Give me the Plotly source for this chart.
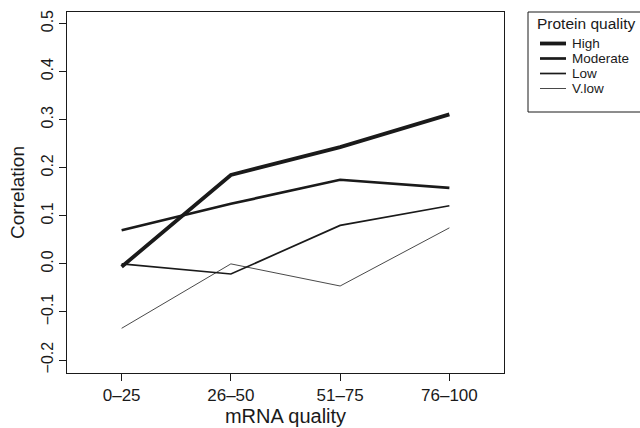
import plotly.graph_objects as go

categories = ["0–25", "26–50", "51–75", "76–100"]
series_names = ["High", "Moderate", "Low", "V.low"]
high = [-0.006, 0.185, 0.243, 0.311]
moderate = [0.070, 0.125, 0.175, 0.158]
low = [0.000, -0.021, 0.080, 0.121]
vlow = [-0.134, 0.000, -0.046, 0.075]
y_ticks = [-0.2, -0.1, 0.0, 0.1, 0.2, 0.3, 0.4, 0.5]

series_values = [high, moderate, low, vlow]
widths = [3.8, 2.7, 1.7, 0.8]

FONT = "Liberation Sans, Arial, Helvetica, sans-serif"
INK = "#1a1a1a"

fig = go.Figure()
for name, vals, w in zip(series_names, series_values, widths):
    fig.add_trace(go.Scatter(x=categories, y=vals, mode="lines", name=name,
                             line=dict(color=INK, width=w), showlegend=False))

# Legend drawn as a framed key (paper coordinates)
PL, PT, PW, PH = 67, 12, 437, 361
def px(x):
    return (x - PL) / PW
def py(y):
    return (PT + PH - y) / PH

shapes = [dict(type="rect", xref="paper", yref="paper",
               x0=px(528), x1=px(700), y0=py(112), y1=py(12),
               line=dict(color=INK, width=1))]
annotations = [dict(text="Protein quality", xref="paper", yref="paper",
                    x=px(535), y=py(23), xanchor="left", yanchor="middle",
                    showarrow=False, font=dict(family=FONT, size=15.5, color=INK))]
for i, (name, w) in enumerate(zip(series_names, widths)):
    yy = 43.5 + 15 * i
    shapes.append(dict(type="line", xref="paper", yref="paper",
                       x0=px(540), x1=px(566), y0=py(yy), y1=py(yy),
                       line=dict(color=INK, width=w)))
    annotations.append(dict(text=name, xref="paper", yref="paper",
                            x=px(570), y=py(yy), xanchor="left", yanchor="middle",
                            showarrow=False, font=dict(family=FONT, size=13.5, color=INK)))

fig.update_layout(
    width=640, height=428,
    margin=dict(l=PL, r=640 - PL - PW, t=PT, b=428 - PT - PH),
    paper_bgcolor="white", plot_bgcolor="white",
    font=dict(family=FONT, color=INK),
    shapes=shapes, annotations=annotations,
    xaxis=dict(type="category", range=[-0.5, 3.5], showgrid=False, zeroline=False,
               automargin=False,
               showline=True, linecolor=INK, linewidth=1, mirror=True,
               ticks="outside", ticklen=7, tickcolor=INK,
               tickfont=dict(family=FONT, size=17, color=INK),
               title=dict(text="mRNA quality", font=dict(family=FONT, size=20, color=INK), standoff=2)),
    yaxis=dict(range=[-0.227, 0.524], showgrid=False, zeroline=False,
               automargin=False,
               showline=True, linecolor=INK, linewidth=1, mirror=True,
               tickvals=y_ticks, tickformat=".1f", tickangle=-90,
               ticks="outside", ticklen=7, tickcolor=INK,
               tickfont=dict(family=FONT, size=16, color=INK),
               title=dict(text="Correlation", font=dict(family=FONT, size=19, color=INK), standoff=8)),
)

fig.write_html("out.html")
